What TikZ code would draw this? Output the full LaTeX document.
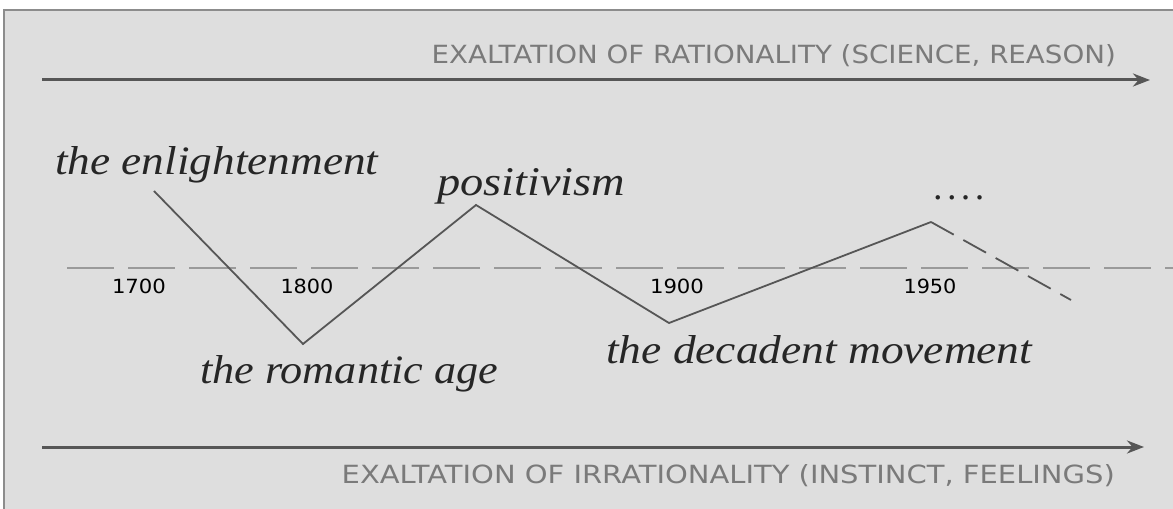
\documentclass[tikz,border=0pt]{standalone}
\usepackage{fontspec}
\usepackage{graphicx}
\usetikzlibrary{arrows.meta}
\setmainfont{Liberation Serif}
\newfontfamily\capsfont{DejaVu Sans}
\newfontfamily\yearfont{DejaVu Sans}
\definecolor{bgc}{HTML}{DEDEDE}
\definecolor{framec}{HTML}{8C8C8C}
\definecolor{linec}{HTML}{565656}
\definecolor{capc}{HTML}{7A7A7A}
\definecolor{dashc}{HTML}{9A9A9A}
\tikzset{
  axisarrow/.style={draw=linec, line width=3bp, -{Stealth[length=17bp,width=13bp]}},
  capslabel/.style={inner sep=0pt, text=capc, font=\capsfont},
  eralabel/.style={inner sep=0pt, anchor=base west, text=black!85, font=\itshape},
  yearlabel/.style={inner sep=0pt, anchor=center, text=black, font=\yearfont},
  zig/.style={draw=linec, line width=1.8bp, line join=miter},
  midline/.style={draw=dashc, line width=2bp, dash pattern=on 47bp off 14bp}
}
\begin{document}
\begin{tikzpicture}[x=1bp,y=-1bp]
\useasboundingbox (0,0) rectangle (1173,509);
\fill[white] (0,0) rectangle (1173,509);
\fill[bgc] (4,10) rectangle (1180,515);
\draw[framec, line width=2bp] (4,515) -- (4,10) -- (1180,10);
% axes
\coordinate (ta) at (42,80);
\coordinate (tb) at (1150,80);
\coordinate (ba) at (42,447);
\coordinate (bb) at (1144,447);
\draw[axisarrow] (ta) -- (tb);
\draw[axisarrow] (ba) -- (bb);
\node[capslabel, anchor=east] (toptext) at (1116,56) {\resizebox{684bp}{19bp}{EXALTATION OF RATIONALITY (SCIENCE, REASON)}};
\node[capslabel, anchor=east] (bottext) at (1115,476) {\resizebox{773bp}{19bp}{EXALTATION OF IRRATIONALITY (INSTINCT, FEELINGS)}};
% middle dashed line
\coordinate (ma) at (67,268);
\coordinate (mb) at (1180,268);
\draw[midline] (ma) -- (mb);
% years
\node[yearlabel] (y1700) at (139,286) {\resizebox{54bp}{14.5bp}{1700}};
\node[yearlabel] (y1800) at (307,286) {\resizebox{53bp}{14.5bp}{1800}};
\node[yearlabel] (y1900) at (677,286) {\resizebox{54bp}{14.5bp}{1900}};
\node[yearlabel] (y1950) at (930,286) {\resizebox{53bp}{14.5bp}{1950}};
% zigzag
\coordinate (p0) at (154,191);
\coordinate (p1) at (303,344);
\coordinate (p2) at (476,205);
\coordinate (p3) at (669,323);
\coordinate (p4) at (931,222);
\coordinate (p5) at (1071,300);
\draw[zig] (p0) -- (p1) -- (p2) -- (p3) -- (p4);
\draw[zig, dash pattern=on 26bp off 11bp] (p4) -- (p5);
% labels
\node[eralabel] (enl) at (55,175) {\resizebox{323bp}{28bp}{the enlightenment}};
\node[eralabel] (pos) at (437,196) {\resizebox{188bp}{27bp}{positivism}};
\node[eralabel] (rom) at (200,384) {\resizebox{298bp}{28bp}{the romantic age}};
\node[eralabel] (dec) at (606,364) {\resizebox{426bp}{28bp}{the decadent movement}};
\node[eralabel] (dots) at (934,200) {\resizebox{51bp}{!}{.\kern0.12em.\kern0.12em.\kern0.12em.}};
\end{tikzpicture}
\end{document}
